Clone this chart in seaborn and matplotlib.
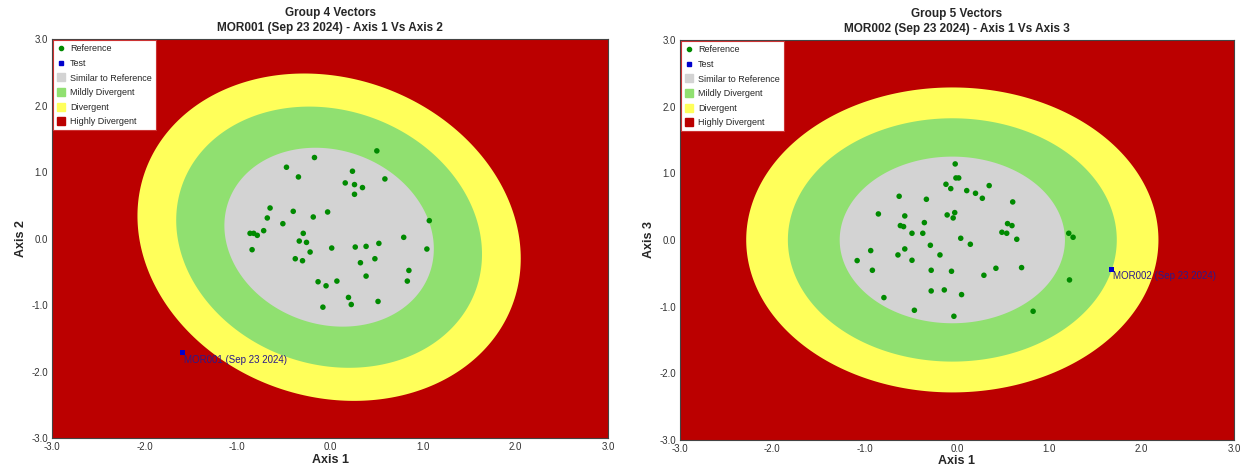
import numpy as np
import matplotlib
matplotlib.use("Agg")
import matplotlib.pyplot as plt
from matplotlib.lines import Line2D
import seaborn as sns

# ---- data ----
ref4_x = [0.505, -0.168, -0.47, -0.341, 0.242, 0.164, 0.264, 0.35, 0.264, 0.592,
          -0.647, -0.397, -0.026, -0.181, -0.677, -0.509, 1.071, -0.716, -0.863, -0.824,
          -0.785, -0.289, -0.841, -0.332, -0.254, -0.215, -0.375, -0.297, 0.018, 0.272,
          0.389, 0.527, 0.795, 1.045, 0.484, 0.328, 0.389, 0.851, 0.834, -0.129,
          -0.043, 0.074, 0.199, 0.229, 0.518, -0.077]
ref4_y = [1.318, 1.218, 1.072, 0.926, 1.012, 0.836, 0.811, 0.766, 0.665, 0.896,
          0.459, 0.409, 0.399, 0.324, 0.309, 0.223, 0.269, 0.118, 0.078, 0.078,
          0.048, 0.078, -0.168, -0.038, -0.058, -0.203, -0.304, -0.334, -0.143, -0.128,
          -0.118, -0.073, 0.018, -0.158, -0.304, -0.364, -0.565, -0.48, -0.64, -0.65,
          -0.711, -0.64, -0.886, -0.992, -0.946, -1.032]
test4 = (-1.593, -1.715)
label4 = "MOR001 (Sep 23 2024)"

ref5_x = [-0.019, -0.011, 0.019, -0.119, -0.067, 0.106, 0.201, 0.349, 0.275, 0.604,
          -0.626, -0.331, -0.851, -0.565, -0.106, -0.024, -0.041, -0.353, -0.613, -0.578,
          -0.487, -0.37, 0.548, 0.596, 0.487, 0.539, 0.648, 0.041, 0.145, -0.288,
          -0.934, -0.565, -1.081, -0.639, -0.487, -0.184, -0.916, -0.279, -0.059, 0.422,
          0.7, 0.292, 1.211, 1.258, 1.219, -0.791, -0.279, -0.137, 0.05, -0.461,
          -0.033, 0.825]
ref5_y = [1.14, 0.93, 0.93, 0.835, 0.77, 0.74, 0.7, 0.815, 0.625, 0.57,
          0.655, 0.61, 0.39, 0.36, 0.375, 0.41, 0.33, 0.26, 0.215, 0.2,
          0.1, 0.1, 0.245, 0.215, 0.115, 0.1, 0.01, 0.025, -0.065, -0.08,
          -0.16, -0.135, -0.31, -0.225, -0.305, -0.225, -0.455, -0.455, -0.47, -0.425,
          -0.415, -0.53, 0.1, 0.04, -0.6, -0.865, -0.765, -0.75, -0.82, -1.055,
          -1.145, -1.07]
test5 = (1.674, -0.44)
label5 = "MOR002 (Sep 23 2024)"

# ellipse shape per panel: centre, half extents, correlation
center4, spread4, rho4 = (-0.01, 0.02), (1.13, 1.345), -0.13
center5, spread5, rho5 = (-0.05, 0.0), (1.22, 1.25), 0.0
zone_scale = [1.83, 1.46, 1.0]

zone_names = ["Similar to Reference", "Mildly Divergent", "Divergent", "Highly Divergent"]
zone_colors = ["#d3d3d3", "#90e070", "#ffff5a", "#bb0000"]

sns.set_style("white")
plt.rcParams['font.family'] = ['Liberation Sans', 'DejaVu Sans']


def ellipse_xy(center, spread, rho, k):
    sx, sy = spread
    cov = np.array([[sx * sx, rho * sx * sy], [rho * sx * sy, sy * sy]])
    L = np.linalg.cholesky(cov)
    t = np.linspace(0, 2 * np.pi, 300)
    pts = k * (L @ np.vstack([np.cos(t), np.sin(t)]))
    return pts[0] + center[0], pts[1] + center[1]


def draw_panel(ax, title, ylab, rx, ry, test, label, center, spread, rho):
    ax.set_facecolor(zone_colors[3])
    # yellow, green, grey from outside in
    for k, col in zip(zone_scale, [zone_colors[2], zone_colors[1], zone_colors[0]]):
        ex, ey = ellipse_xy(center, spread, rho, k)
        ax.fill(ex, ey, color=col, lw=0, zorder=1)

    sns.scatterplot(x=rx, y=ry, ax=ax, color="#008a00", s=16, edgecolor="none",
                    zorder=3, legend=False)
    sns.scatterplot(x=[test[0]], y=[test[1]], ax=ax, color="#0000cc", marker="s",
                    s=12, edgecolor="none", zorder=3, legend=False)
    ax.annotate(label, test, xytext=(1, -5), textcoords="offset points",
                fontsize=7, color="#2b1a8a", ha="left", va="center", zorder=4)

    ax.set_xlim(-3, 3)
    ax.set_ylim(-3, 3)
    ticks = np.arange(-3, 3.01, 1.0)
    ax.set_xticks(ticks)
    ax.set_yticks(ticks)
    ax.set_xticklabels([f"{v:.1f}" for v in ticks])
    ax.set_yticklabels([f"{v:.1f}" for v in ticks])
    ax.tick_params(length=0, labelsize=7, labelcolor="#333333")
    ax.tick_params(axis="x", pad=3)
    ax.tick_params(axis="y", pad=3)
    ax.set_xlabel("Axis 1", fontsize=9, fontweight="bold", labelpad=1)
    ax.set_ylabel(ylab, fontsize=9, fontweight="bold", labelpad=3)
    ax.set_title(title, fontsize=8.5, fontweight="bold", pad=6, linespacing=1.25)
    for sp in ax.spines.values():
        sp.set_color("#444444")
        sp.set_linewidth(0.8)

    handles = [
        Line2D([], [], ls="", marker="o", ms=3, color="#008a00"),
        Line2D([], [], ls="", marker="s", ms=3, color="#0000cc"),
    ] + [Line2D([], [], ls="", marker="s", ms=5.5, color=c) for c in zone_colors]
    names = ["Reference", "Test"] + zone_names
    leg = ax.legend(handles, names, loc="upper left", fontsize=6.5, frameon=True,
                    fancybox=False, framealpha=1, edgecolor="#cc3333",
                    borderaxespad=0.15, handlelength=0.8, handletextpad=0.6,
                    labelspacing=0.62, borderpad=0.45)
    leg.get_frame().set_linewidth(0.8)
    leg.set_zorder(5)


fig = plt.figure(figsize=(12.44, 4.70), dpi=100)
ax1 = fig.add_axes([0.0418, 0.068, 0.447, 0.849])
ax2 = fig.add_axes([0.5466, 0.064, 0.4453, 0.851])

draw_panel(ax1, "Group 4 Vectors\nMOR001 (Sep 23 2024) - Axis 1 Vs Axis 2", "Axis 2",
           ref4_x, ref4_y, test4, label4, center4, spread4, rho4)
draw_panel(ax2, "Group 5 Vectors\nMOR002 (Sep 23 2024) - Axis 1 Vs Axis 3", "Axis 3",
           ref5_x, ref5_y, test5, label5, center5, spread5, rho5)

fig.savefig("out.png", dpi=100)
